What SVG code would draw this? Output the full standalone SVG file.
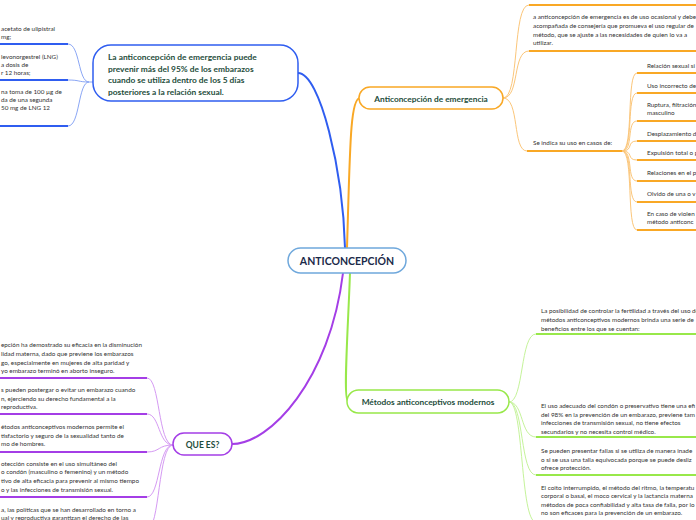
<svg xmlns="http://www.w3.org/2000/svg" width="696" height="520" viewBox="0 0 696 520">
<style>
.t{font-family:Lato,"Liberation Sans",sans-serif;font-size:6.3px;fill:#333}
.n{font-family:Lato,"Liberation Sans",sans-serif;font-weight:bold;fill:#1e4d3b}
.box{fill:#fff;stroke-width:1.5}
.ub{stroke:#2f5df0;stroke-width:2;fill:none}
.uo{stroke:#f9a825;stroke-width:2;fill:none}
.ug{stroke:#98e84a;stroke-width:2;fill:none}
.up{stroke:#a43ee6;stroke-width:2;fill:none}
.cb{stroke:#8aa6f5;stroke-width:1;fill:none}
.co{stroke:#fbc67a;stroke-width:1;fill:none}
.cg{stroke:#c5f39a;stroke-width:1;fill:none}
.cp{stroke:#d59af3;stroke-width:1;fill:none}
</style>
<rect width="696" height="520" fill="#fff"/>
<g id="connectors">
<path d="M298,73 C320,73 343,170 345,248" stroke="#2f5df0" stroke-width="2" fill="none"/>
<path d="M347,248 C350,150 350,98 360,98" stroke="#f9a825" stroke-width="2" fill="none"/>
<path d="M350,273 C348,330 343,400 348,401" stroke="#98e84a" stroke-width="2" fill="none"/>
<path d="M343,273 C330,380 270,444 232,444" stroke="#a43ee6" stroke-width="2" fill="none"/>
<path class="cb" d="M93,82 L89,82 C78,82 80,44 68,44"/>
<path class="cb" d="M89,82 C78,82 80,80 68,80"/>
<path class="cb" d="M89,82 C78,82 80,126 68,126"/>
<path class="co" d="M503,98 C520,98 512,5 529,5"/>
<path class="co" d="M503,98 C520,98 512,51 529,51"/>
<path class="co" d="M503,98 C520,98 512,151 527,151"/>
<path class="co" d="M622,151 C634,151 626,73 637,73"/>
<path class="co" d="M622,151 C634,151 626,93 637,93"/>
<path class="co" d="M622,151 C634,151 626,121 637,121"/>
<path class="co" d="M622,151 C634,151 626,141 637,141"/>
<path class="co" d="M622,151 C634,151 626,160 637,160"/>
<path class="co" d="M622,151 C634,151 626,181 637,181"/>
<path class="co" d="M622,151 C634,151 626,202 637,202"/>
<path class="co" d="M622,151 C634,151 626,230 637,230"/>
<path class="cg" d="M509,402 C524,402 520,334 536,334"/>
<path class="cg" d="M509,402 C524,402 520,437 536,437"/>
<path class="cg" d="M509,402 C524,402 520,475 536,475"/>
<path class="cg" d="M509,402 C524,402 520,522 536,522"/>
<path class="cp" d="M173,445 C158,445 160,378 147,378"/>
<path class="cp" d="M173,445 C158,445 160,414 147,414"/>
<path class="cp" d="M173,445 C158,445 160,452 147,452"/>
<path class="cp" d="M173,445 C158,445 160,497 147,497"/>
<path class="cp" d="M173,445 C158,445 160,530 147,530"/>
</g>
<g id="center">
<rect class="box" x="288" y="248" width="118" height="25" rx="12.5" stroke="#6fa8dc"/>
<text x="347" y="264.5" text-anchor="middle" font-family="Lato,'Liberation Sans',sans-serif" font-weight="bold" font-size="10.5" fill="#1b2a49">ANTICONCEPCIÓN</text>
</g>
<g id="blue-node">
<rect class="box" x="93" y="45" width="205" height="56" rx="18" stroke="#2f5df0"/>
<text class="n" font-size="8.4"><tspan x="108" y="60">La anticoncepción de emergencia puede</tspan><tspan x="108" y="71.5">prevenir más del 95% de los embarazos</tspan><tspan x="108" y="83">cuando se utiliza dentro de los 5 días</tspan><tspan x="108" y="94.5">posteriores a la relación sexual.</tspan></text>
</g>
<g id="blue-1">
<text class="t"><tspan x="1" y="30.5">acetato de ulipistral</tspan><tspan x="1" y="38.5">mg;</tspan></text>
<path class="ub" d="M0,44 H68"/>
</g>
<g id="blue-2">
<text class="t"><tspan x="1" y="59">levonorgestrel (LNG)</tspan><tspan x="1" y="67">a dosis de</tspan><tspan x="1" y="75">r 12 horas;</tspan></text>
<path class="ub" d="M0,80 H68"/>
</g>
<g id="blue-3">
<text class="t"><tspan x="1" y="94">na toma de 100 µg de</tspan><tspan x="1" y="102">da de una segunda</tspan><tspan x="1" y="110">50 mg de LNG 12</tspan></text>
<path class="ub" d="M0,126 H68"/>
</g>
<g id="orange-node">
<rect class="box" x="359" y="87" width="144" height="22" rx="11" stroke="#f9a825"/>
<text class="n" x="431" y="101.5" text-anchor="middle" font-size="8.3">Anticoncepción de emergencia</text>
</g>
<g id="orange-0">
<path class="uo" d="M529,5 H696"/>
</g>
<g id="orange-1">
<text class="t"><tspan x="533" y="19">a anticoncepción de emergencia es de uso ocasional y debe</tspan><tspan x="533" y="28">acompañada de consejería que promueva el uso regular de</tspan><tspan x="533" y="36.5">método, que se ajuste a las necesidades de quien lo va a</tspan><tspan x="533" y="45">utilizar.</tspan></text>
<path class="uo" d="M529,51 H696"/>
</g>
<g id="orange-2">
<text class="t" x="533" y="145">Se indica su uso en casos de:</text>
<path class="uo" d="M527,151 H622"/>
</g>
<g id="oc-1"><text class="t" x="647" y="67.7">Relación sexual si</text><path class="uo" d="M637,73 H696"/></g>
<g id="oc-2"><text class="t" x="647" y="88">Uso incorrecto de</text><path class="uo" d="M637,93 H696"/></g>
<g id="oc-3"><text class="t"><tspan x="647" y="107">Ruptura, filtración</tspan><tspan x="647" y="115.3">masculino</tspan></text><path class="uo" d="M637,121 H696"/></g>
<g id="oc-4"><text class="t" x="647" y="136">Desplazamiento d</text><path class="uo" d="M637,141 H696"/></g>
<g id="oc-5"><text class="t" x="647" y="155.3">Expulsión total o p</text><path class="uo" d="M637,160 H696"/></g>
<g id="oc-6"><text class="t" x="647" y="175.3">Relaciones en el p</text><path class="uo" d="M637,181 H696"/></g>
<g id="oc-7"><text class="t" x="647" y="196">Olvido de una o v</text><path class="uo" d="M637,202 H696"/></g>
<g id="oc-8"><text class="t"><tspan x="647" y="216">En caso de violen</tspan><tspan x="647" y="224.3">método anticonc</tspan></text><path class="uo" d="M637,230 H696"/></g>
<g id="green-node">
<rect class="box" x="347" y="390" width="162" height="23" rx="11.5" stroke="#98e84a"/>
<text class="n" x="428" y="404.5" text-anchor="middle" font-size="8.3">Métodos anticonceptivos modernos</text>
</g>
<g id="green-1">
<text class="t"><tspan x="541" y="313">La posibilidad de controlar la fertilidad a través del uso de</tspan><tspan x="541" y="321.5">métodos anticonceptivos modernos brinda una serie de</tspan><tspan x="541" y="330.5">beneficios entre los que se cuentan:</tspan></text>
<path class="ug" d="M536,334 H696"/>
</g>
<g id="green-2">
<text class="t"><tspan x="541" y="408">El uso adecuado del condón o preservativo tiene una efi</tspan><tspan x="541" y="416.5">del 98% en la prevención de un embarazo, previene tam</tspan><tspan x="541" y="425">infecciones de transmisión sexual, no tiene efectos</tspan><tspan x="541" y="433.5">secundarios y no necesita control médico.</tspan></text>
<path class="ug" d="M536,437 H696"/>
</g>
<g id="green-3">
<text class="t"><tspan x="541" y="453">Se pueden presentar fallas si se utiliza de manera inade</tspan><tspan x="541" y="461.5">o si se usa una talla equivocada porque se puede desliz</tspan><tspan x="541" y="470">ofrece protección.</tspan></text>
<path class="ug" d="M536,475 H696"/>
</g>
<g id="green-4">
<text class="t"><tspan x="541" y="489.5">El coito interrumpido, el método del ritmo, la temperatu</tspan><tspan x="541" y="498">corporal o basal, el moco cervical y la lactancia materna</tspan><tspan x="541" y="506.5">métodos de poca confiabilidad y alta tasa de falla, por lo</tspan><tspan x="541" y="515">no son eficaces para la prevención de un embarazo.</tspan></text>
</g>
<g id="purple-node">
<rect class="box" x="173" y="433" width="59" height="22" rx="11" stroke="#a43ee6"/>
<text class="n" x="202.5" y="447.5" text-anchor="middle" font-size="8.5">QUE ES?</text>
</g>
<g id="purple-1">
<text class="t"><tspan x="1" y="347">epción ha demostrado su eficacia en la disminución</tspan><tspan x="1" y="356">lidad materna, dado que previene los embarazos</tspan><tspan x="1" y="364.5">go, especialmente en mujeres de alta paridad y</tspan><tspan x="1" y="372.5">yo embarazo terminó en aborto inseguro.</tspan></text>
<path class="up" d="M0,378 H147"/>
</g>
<g id="purple-2">
<text class="t"><tspan x="1" y="392">s pueden postergar o evitar un embarazo cuando</tspan><tspan x="1" y="400.5">n, ejerciendo su derecho fundamental a la</tspan><tspan x="1" y="409">reproductiva.</tspan></text>
<path class="up" d="M0,414 H147"/>
</g>
<g id="purple-3">
<text class="t"><tspan x="1" y="429">étodos anticonceptivos modernos permite el</tspan><tspan x="1" y="437.5">tisfactorio y seguro de la sexualidad tanto de</tspan><tspan x="1" y="446">mo de hombres.</tspan></text>
<path class="up" d="M0,452 H147"/>
</g>
<g id="purple-4">
<text class="t"><tspan x="1" y="465.5">otección consiste en el uso simultáneo del</tspan><tspan x="1" y="474">o condón (masculino o femenino) y un método</tspan><tspan x="1" y="483">tivo de alta eficacia para prevenir al mismo tiempo</tspan><tspan x="1" y="491.5">o y las infecciones de transmisión sexual.</tspan></text>
<path class="up" d="M0,497 H147"/>
</g>
<g id="purple-5">
<text class="t"><tspan x="1" y="512">a, las políticas que se han desarrollado en torno a</tspan><tspan x="1" y="520">ual y reproductiva garantizan el derecho de las</tspan></text>
</g>
</svg>
